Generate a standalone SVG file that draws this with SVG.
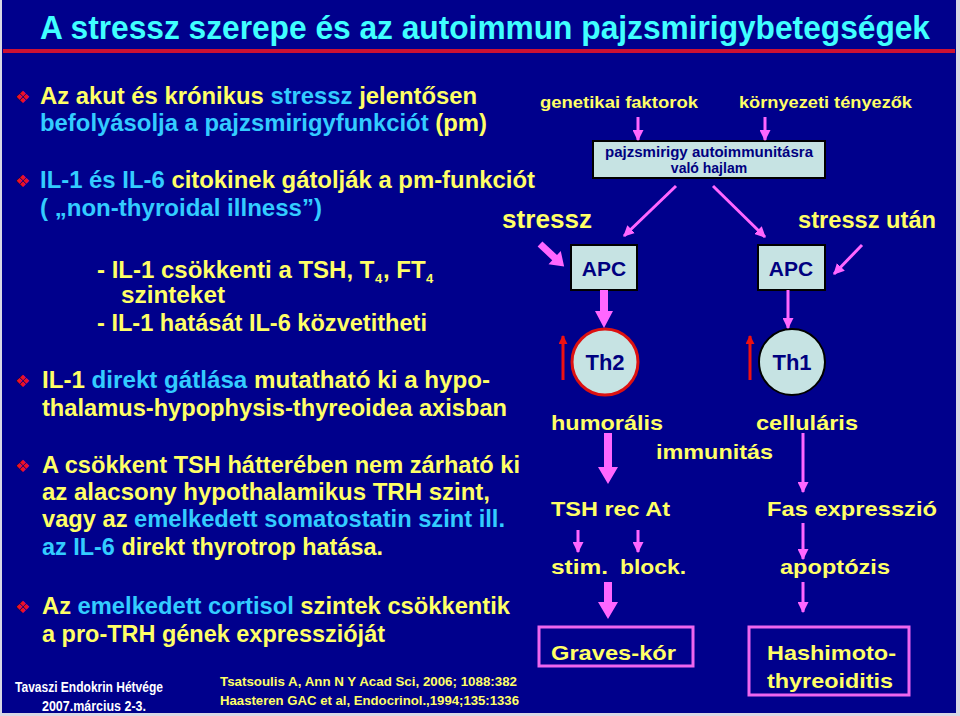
<svg xmlns="http://www.w3.org/2000/svg" width="960" height="716" viewBox="0 0 960 716">
<defs>
<style>
text{font-family:"Liberation Sans",Arial,sans-serif;font-weight:bold}
.y{fill:#ffff66}
.c{fill:#33ccff}
.b{font-size:24px}
.r{font-size:21px}
.bul{font-family:"DejaVu Sans",sans-serif;font-size:17px;fill:#ee1122}
.box{fill:#c6e3e3;stroke:#000000;stroke-width:2}
.bt{fill:#000080}
.pk{stroke:#ff66ff;fill:none}
.pf{fill:#ff66ff}
</style>
<marker id="ah" viewBox="0 0 10 10" refX="9" refY="5" markerWidth="11" markerHeight="11" markerUnits="userSpaceOnUse" orient="auto"><path d="M0,0 L10,5 L0,10 z" fill="#ff66ff"/></marker>
<marker id="rh" viewBox="0 0 10 10" refX="9" refY="5" markerWidth="9" markerHeight="9" markerUnits="userSpaceOnUse" orient="auto"><path d="M0,0 L10,5 L0,10 z" fill="#ee1111"/></marker>
</defs>
<rect width="960" height="716" fill="#d8d8e4"/>
<rect x="2" y="0" width="954" height="713" fill="#00008c"/>
<text transform="translate(40,39) scale(1,1.12)" x="0" y="0" font-size="29" fill="#40ffff" textLength="890" lengthAdjust="spacingAndGlyphs">A stressz szerepe és az autoimmun pajzsmirigybetegségek</text>
<rect x="3" y="49" width="952" height="4" fill="#cc1133"/>

<g id="left-text">
<text class="bul" x="15" y="103">❖</text>
<text class="b" x="40" y="104" textLength="437" lengthAdjust="spacingAndGlyphs"><tspan class="y">Az akut és krónikus </tspan><tspan class="c">stressz</tspan><tspan class="y"> jelentősen</tspan></text>
<text class="b" x="40" y="131" textLength="447" lengthAdjust="spacingAndGlyphs"><tspan class="c">befolyásolja a pajzsmirigyfunkciót </tspan><tspan class="y">(pm)</tspan></text>
<text class="bul" x="15" y="187">❖</text>
<text class="b" x="40" y="188" textLength="495" lengthAdjust="spacingAndGlyphs"><tspan class="c">IL-1 és IL-6</tspan><tspan class="y"> citokinek gátolják a pm-funkciót</tspan></text>
<text class="b c" x="40" y="216" textLength="282" lengthAdjust="spacingAndGlyphs">( „non-thyroidal illness”)</text>

<text class="b y" x="97" y="278">- IL-1 csökkenti a TSH, T</text>
<text class="y" x="375" y="283" font-size="13">4</text>
<text class="b y" x="383" y="278">, FT</text>
<text class="y" x="426" y="283" font-size="13">4</text>
<text class="b y" x="121" y="303" textLength="104" lengthAdjust="spacingAndGlyphs">szinteket</text>
<text class="b y" x="97" y="331" textLength="330" lengthAdjust="spacingAndGlyphs">- IL-1 hatását IL-6 közvetitheti</text>

<text class="bul" x="15" y="387">❖</text>
<text class="b" x="42" y="388" textLength="448" lengthAdjust="spacingAndGlyphs"><tspan class="y">IL-1 </tspan><tspan class="c">direkt gátlása</tspan><tspan class="y">  mutatható ki a hypo-</tspan></text>
<text class="b y" x="42" y="416" textLength="465" lengthAdjust="spacingAndGlyphs">thalamus-hypophysis-thyreoidea axisban</text>

<text class="bul" x="15" y="472">❖</text>
<text class="b y" x="42" y="473" textLength="478" lengthAdjust="spacingAndGlyphs">A csökkent TSH hátterében nem zárható ki</text>
<text class="b y" x="42" y="500" textLength="448" lengthAdjust="spacingAndGlyphs">az alacsony hypothalamikus TRH szint,</text>
<text class="b" x="42" y="527" textLength="463" lengthAdjust="spacingAndGlyphs"><tspan class="y">vagy az </tspan><tspan class="c">emelkedett somatostatin szint ill.</tspan></text>
<text class="b" x="42" y="555" textLength="341" lengthAdjust="spacingAndGlyphs"><tspan class="c">az IL-6</tspan><tspan class="y"> direkt thyrotrop hatása.</tspan></text>

<text class="bul" x="15" y="613">❖</text>
<text class="b" x="42" y="614" textLength="468" lengthAdjust="spacingAndGlyphs"><tspan class="y">Az </tspan><tspan class="c">emelkedett cortisol</tspan><tspan class="y"> szintek csökkentik</tspan></text>
<text class="b y" x="42" y="642" textLength="343" lengthAdjust="spacingAndGlyphs">a pro-TRH gének expresszióját</text>
</g>

<g id="footer">
<text x="89" y="692" font-size="14" fill="#ffffff" text-anchor="middle" textLength="148" lengthAdjust="spacingAndGlyphs">Tavaszi Endokrin Hétvége</text>
<text x="94" y="711" font-size="14" fill="#ffffff" text-anchor="middle" textLength="104" lengthAdjust="spacingAndGlyphs">2007.március 2-3.</text>
<text x="220" y="686" font-size="13" fill="#ffff66" textLength="297" lengthAdjust="spacingAndGlyphs">Tsatsoulis A, Ann N Y Acad Sci, 2006; 1088:382</text>
<text x="220" y="705" font-size="13" fill="#ffff66" textLength="299" lengthAdjust="spacingAndGlyphs">Haasteren GAC et al, Endocrinol.,1994;135:1336</text>
</g>

<g id="labels">
<text class="y" x="540" y="108" font-size="17" textLength="158" lengthAdjust="spacingAndGlyphs">genetikai faktorok</text>
<text class="y" x="739" y="108" font-size="17" textLength="173" lengthAdjust="spacingAndGlyphs">környezeti tényezők</text>
<text class="y" x="502" y="228" font-size="26" textLength="90" lengthAdjust="spacingAndGlyphs">stressz</text>
<text class="y" x="798" y="228" font-size="23" textLength="138" lengthAdjust="spacingAndGlyphs">stressz után</text>
</g>

<g id="node-hajlam">
<rect class="box" x="593" y="141" width="232" height="37"/>
<text class="bt" x="709" y="157" font-size="14" text-anchor="middle" textLength="208" lengthAdjust="spacingAndGlyphs">pajzsmirigy autoimmunitásra</text>
<text class="bt" x="709" y="173" font-size="14" text-anchor="middle">való hajlam</text>
</g>
<g id="node-apc1">
<rect class="box" x="571" y="245" width="66" height="45"/>
<text class="bt" x="604" y="276" font-size="21" text-anchor="middle">APC</text>
</g>
<g id="node-apc2">
<rect class="box" x="758" y="245" width="67" height="45"/>
<text class="bt" x="791" y="276" font-size="21" text-anchor="middle">APC</text>
</g>
<g id="node-th2">
<circle cx="605" cy="362" r="33" fill="#c6e3e3" stroke="#dd1111" stroke-width="3"/>
<text class="bt" x="605" y="370" font-size="22" text-anchor="middle">Th2</text>
</g>
<g id="node-th1">
<circle cx="792" cy="362" r="33" fill="#c6e3e3" stroke="#000000" stroke-width="2"/>
<text class="bt" x="792" y="370" font-size="22" text-anchor="middle">Th1</text>
</g>
<g id="node-humoralis"><text class="y r" x="551" y="430" textLength="112" lengthAdjust="spacingAndGlyphs">humorális</text></g>
<g id="node-cellularis"><text class="y r" x="756" y="430" textLength="102" lengthAdjust="spacingAndGlyphs">celluláris</text></g>
<g id="node-immunitas"><text class="y r" x="656" y="459" textLength="117" lengthAdjust="spacingAndGlyphs">immunitás</text></g>
<g id="node-tshrec"><text class="y r" x="551" y="516" textLength="119" lengthAdjust="spacingAndGlyphs">TSH rec At</text></g>
<g id="node-fas"><text class="y r" x="767" y="516" textLength="170" lengthAdjust="spacingAndGlyphs">Fas expresszió</text></g>
<g id="node-stim"><text class="y r" x="551" y="574" textLength="57" lengthAdjust="spacingAndGlyphs">stim.</text></g>
<g id="node-block"><text class="y r" x="620" y="574" textLength="66" lengthAdjust="spacingAndGlyphs">block.</text></g>
<g id="node-apoptozis"><text class="y r" x="780" y="574" textLength="110" lengthAdjust="spacingAndGlyphs">apoptózis</text></g>
<g id="node-graves">
<rect x="539" y="627" width="154" height="39" fill="none" stroke="#ee66ee" stroke-width="3"/>
<text class="y r" x="551" y="660" textLength="125" lengthAdjust="spacingAndGlyphs">Graves-kór</text>
</g>
<g id="node-hashimoto">
<rect x="749" y="627" width="160" height="68" fill="none" stroke="#ee66ee" stroke-width="3"/>
<text class="y r" x="767" y="660" textLength="129" lengthAdjust="spacingAndGlyphs">Hashimoto-</text>
<text class="y r" x="767" y="688" textLength="126" lengthAdjust="spacingAndGlyphs">thyreoiditis</text>
</g>

<g id="connectors">
<line class="pk" x1="638" y1="117" x2="638" y2="140" stroke-width="3" marker-end="url(#ah)"/>
<line class="pk" x1="765" y1="117" x2="765" y2="140" stroke-width="3" marker-end="url(#ah)"/>
<line class="pk" x1="676" y1="186" x2="624" y2="236" stroke-width="3" marker-end="url(#ah)"/>
<line class="pk" x1="713" y1="186" x2="765" y2="237" stroke-width="3" marker-end="url(#ah)"/>
<polygon class="pf" transform="translate(540,244) rotate(43)" points="0,-3.5 20,-3.5 20,-9 33,0 20,9 20,3.5 0,3.5"/>
<line class="pk" x1="862" y1="245" x2="834" y2="274" stroke-width="3" marker-end="url(#ah)"/>
<polygon class="pf" points="600,290 608,290 608,311 613,311 604,328 595,311 600,311"/>
<line class="pk" x1="788" y1="290" x2="788" y2="328" stroke-width="3" marker-end="url(#ah)"/>
<line x1="563" y1="380" x2="563" y2="336" stroke="#ee1111" stroke-width="3" marker-end="url(#rh)"/>
<line x1="750" y1="380" x2="750" y2="336" stroke="#ee1111" stroke-width="3" marker-end="url(#rh)"/>
<polygon class="pf" points="604,433 612,433 612,467 618,467 608,484 598,467 604,467"/>
<line class="pk" x1="803" y1="433" x2="803" y2="492" stroke-width="3" marker-end="url(#ah)"/>
<line class="pk" x1="578" y1="530" x2="578" y2="552" stroke-width="3" marker-end="url(#ah)"/>
<line class="pk" x1="638" y1="530" x2="638" y2="552" stroke-width="3" marker-end="url(#ah)"/>
<line class="pk" x1="803" y1="523" x2="803" y2="559" stroke-width="3" marker-end="url(#ah)"/>
<polygon class="pf" points="604,582 612,582 612,602 618,602 608,619 598,602 604,602"/>
<line class="pk" x1="803" y1="582" x2="803" y2="612" stroke-width="3" marker-end="url(#ah)"/>
</g>
</svg>
